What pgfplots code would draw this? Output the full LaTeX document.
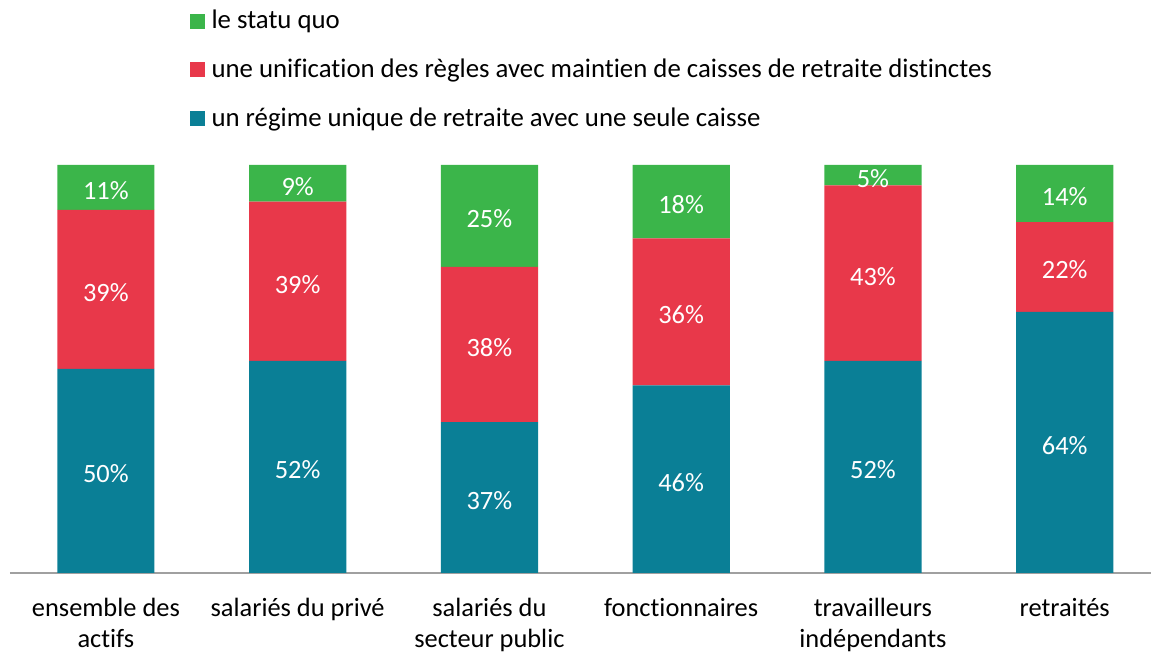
\documentclass[border=0pt]{standalone}
\usepackage{pgfplots}
\pgfplotsset{compat=1.18}
\usepackage{fontspec}
\setmainfont{Carlito}[Ligatures=NoCommon]
\definecolor{cgreen}{HTML}{3BB54A}
\definecolor{cred}{HTML}{E8384A}
\definecolor{cteal}{HTML}{0A7F96}
\definecolor{cline}{HTML}{A0A0A0}
\begin{document}
\begin{tikzpicture}
\useasboundingbox (-5pt,-39.5pt) rectangle (570.5pt,286.5pt);
\begin{axis}[
  at={(0,0)}, anchor=south west,
  scale only axis,
  width=570.5pt, height=204pt,
  xmin=-0.5, xmax=5.45, ymin=0, ymax=100,
  ybar stacked, bar width=0.507,
  axis x line*=bottom, hide y axis,
  x axis line style={cline, line width=1pt},
  major tick length=0pt,
  xtick={0,1,2,3,4,5},
  xticklabels={{ensemble des\\actifs},{salariés du privé},{salariés du\\secteur public},{fonctionnaires},{travailleurs\\indépendants},{retraités}},
  xticklabel style={align=center, font=\fontsize{13.2}{15.7}\selectfont, text=black, yshift=-9pt},
  /pgf/number format/assume math mode=true,
  visualization depends on=rawy\as\rawy,
  nodes near coords={\pgfmathprintnumber{\rawy}\%},
  every node near coord/.append style={anchor=center, text=white, font=\fontsize{13.2}{15.5}\selectfont, yshift=-1.5pt},
  legend style={at={(0.157,1.39)}, anchor=north west, draw=none, fill=none, row sep=9.5pt, font=\fontsize{13.4}{15.5}\selectfont, inner sep=0pt},
  legend cell align=left,
  reverse legend,
  legend image code/.code={\fill[#1] (0pt,-3.75pt) rectangle (7.5pt,3.75pt); \path (9pt,0pt);},
]
\addplot[fill=cteal, draw=none] coordinates {(0,50) (1,52) (2,37) (3,46) (4,52) (5,64)};
\addlegendentry{un régime unique de retraite avec une seule caisse}
\addplot[fill=cred, draw=none] coordinates {(0,39) (1,39) (2,38) (3,36) (4,43) (5,22)};
\addlegendentry{une unification des règles avec maintien de caisses de retraite distinctes}
\addplot[fill=cgreen, draw=none] coordinates {(0,11) (1,9) (2,25) (3,18) (4,5) (5,14)};
\addlegendentry{le statu quo}
\end{axis}
\end{tikzpicture}
\end{document}
